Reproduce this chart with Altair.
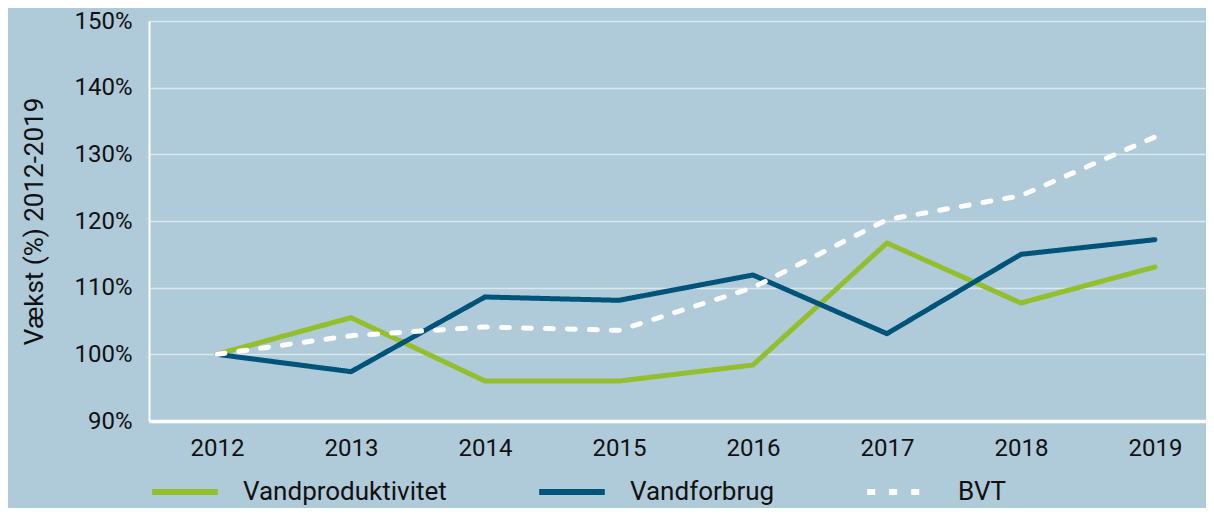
import altair as alt
import pandas as pd

years = [2012, 2013, 2014, 2015, 2016, 2017, 2018, 2019]
series_names = ["Vandproduktivitet", "Vandforbrug", "BVT"]
vandproduktivitet = [100.0, 105.5, 96.0, 96.0, 98.4, 116.7, 107.7, 113.1]
vandforbrug = [100.0, 97.4, 108.6, 108.1, 111.9, 103.1, 115.0, 117.2]
bvt = [100.0, 102.8, 104.1, 103.6, 110.0, 120.2, 123.8, 132.6]
y_ticks = [90, 100, 110, 120, 130, 140, 150]

rows = []
for name, vals in zip(series_names, [vandproduktivitet, vandforbrug, bvt]):
    for yr, v in zip(years, vals):
        rows.append({"Aar": yr, "Vaerdi": v, "Serie": name})
df = pd.DataFrame(rows)

colors = ["#93bf2d", "#00547a", "#ffffff"]
dashes = [[1, 0], [1, 0], [8, 14]]

legend = alt.Legend(title=None, orient="none", direction="horizontal", legendX=0, legendY=435)

chart = alt.Chart(df).mark_line(strokeWidth=5, strokeCap="round", strokeJoin="round").encode(
    x=alt.X("Aar:Q",
            scale=alt.Scale(domain=[2011.4925, 2019.381], nice=False, zero=False),
            axis=alt.Axis(values=years, format="d", title=None, grid=False, ticks=False,
                          labelPadding=15, domainColor="white", domainWidth=3.5)),
    y=alt.Y("Vaerdi:Q",
            scale=alt.Scale(domain=[90, 150], nice=False, zero=False),
            axis=alt.Axis(values=y_ticks, labelExpr="datum.value + '%'",
                          title="Vækst (%) 2012-2019", ticks=False, labelPadding=17,
                          titlePadding=26, domainColor="white", domainWidth=2,
                          gridColor="white", gridOpacity=0.55, gridWidth=1.5)),
    color=alt.Color("Serie:N", scale=alt.Scale(domain=series_names, range=colors),
                    legend=legend),
    strokeDash=alt.StrokeDash("Serie:N", scale=alt.Scale(domain=series_names, range=dashes),
                              legend=legend),
    order=alt.Order("Aar:Q"),
).properties(
    width=1057,
    height=400,
    autosize=alt.AutoSizeParams(type="none"),
    padding={"left": 141, "top": 13, "right": 0, "bottom": 87},
    background="#afcad9",
).configure_view(
    stroke=None,
).configure_axis(
    labelFont="Roboto",
    labelFontSize=24,
    labelColor="#111111",
    titleFont="Roboto",
    titleFontSize=26,
    titleFontWeight="normal",
    titleColor="#111111",
).configure_legend(
    symbolType="stroke",
    symbolSize=4300,
    symbolStrokeWidth=6,
    labelFont="Roboto",
    labelFontSize=26,
    labelColor="#111111",
    labelOffset=22,
    columnPadding=80,
    padding=0,
    labelLimit=400,
)

chart.save("out.html", embed_options={"renderer": "svg", "actions": False})
